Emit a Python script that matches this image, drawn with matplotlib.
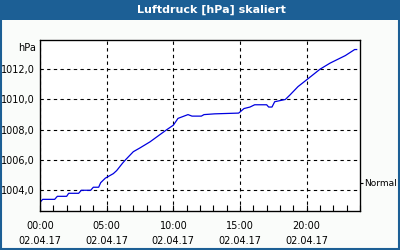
import matplotlib.pyplot as plt
import numpy as np

# Luftdruck, 02.04.17 (Stunden seit 00:00, hPa)
hours = [0.0, 0.2, 1.1, 1.3, 2.0, 2.15, 2.9, 3.1, 3.8, 4.0, 4.4, 4.55, 4.9,
         5.5, 5.75, 6.2, 6.4, 7.0, 7.5, 8.25, 9.5, 10.0, 10.35, 11.1, 11.4,
         12.1, 12.3, 13.1, 14.9, 15.3, 15.75, 16.1, 17.0, 17.15, 17.4, 17.6,
         18.4, 18.75, 19.35, 20.0, 21.0, 21.75, 22.9, 23.6, 23.75]
pressure = [1003.2, 1003.4, 1003.4, 1003.6, 1003.6, 1003.8, 1003.8, 1004.0,
            1004.0, 1004.2, 1004.2, 1004.5, 1004.8, 1005.1, 1005.3, 1005.8,
            1006.0, 1006.55, 1006.8, 1007.2, 1008.0, 1008.3, 1008.75, 1009.0,
            1008.9, 1008.9, 1009.0, 1009.05, 1009.1, 1009.4, 1009.5, 1009.65,
            1009.65, 1009.5, 1009.5, 1009.85, 1010.0, 1010.3, 1010.85, 1011.3,
            1012.0, 1012.4, 1012.9, 1013.3, 1013.3]
y_ticks = [1004, 1006, 1008, 1010, 1012]
x_ticks = [0, 5, 10, 15, 20]
x_labels = ['00:00\n02.04.17', '05:00\n02.04.17', '10:00\n02.04.17',
            '15:00\n02.04.17', '20:00\n02.04.17']
normal_value = 1004.5

fig = plt.figure(figsize=(4, 2.5), dpi=100)
fig.patch.set_facecolor('#fafcfa')

# title bar and frame
fig.patches.append(plt.Rectangle((0, 0.92), 1, 0.08, transform=fig.transFigure,
                                 facecolor='#1c5f95', edgecolor='none', zorder=0))
fig.patches.append(plt.Rectangle((0.002, 0.004), 0.996, 0.99, transform=fig.transFigure,
                                 facecolor='none', edgecolor='#1c5f95', linewidth=1.5, zorder=0))
fig.text(0.528, 0.962, 'Luftdruck [hPa] skaliert', color='white', fontsize=8,
         fontweight='bold', ha='center', va='center')

ax = fig.add_axes([0.1, 0.156, 0.8, 0.684])
ax.set_facecolor('white')
ax.plot(hours, pressure, color='#0000e0', linewidth=0.9)

ax.set_xlim(0, 24)
ax.set_ylim(1002.63, 1013.93)
ax.set_xticks(x_ticks)
ax.set_xticklabels(x_labels, fontsize=7, linespacing=1.6)
ax.set_xticks(np.arange(0, 25, 1), minor=True)
ax.set_yticks(y_ticks)
ax.set_yticklabels([f'{v},0' for v in y_ticks], fontsize=7)
ax.tick_params(axis='x', which='both', direction='in', length=4, width=0.8, pad=7)
ax.tick_params(axis='y', length=0, pad=4)
ax.grid(True, color='black', linestyle=(0, (3, 3)), linewidth=0.8)
for s in ax.spines.values():
    s.set_linewidth(0.9)

ax.text(-0.012, 0.955, 'hPa', transform=ax.transAxes, ha='right', va='center', fontsize=7)

ax2 = ax.twinx()
ax2.set_ylim(ax.get_ylim())
ax2.set_yticks([normal_value])
ax2.set_yticklabels(['Normal'], fontsize=6.5)
ax2.tick_params(axis='y', direction='out', length=2.5, width=0.8, pad=0.5)

fig.savefig('out.png', dpi=100, facecolor=fig.get_facecolor())
